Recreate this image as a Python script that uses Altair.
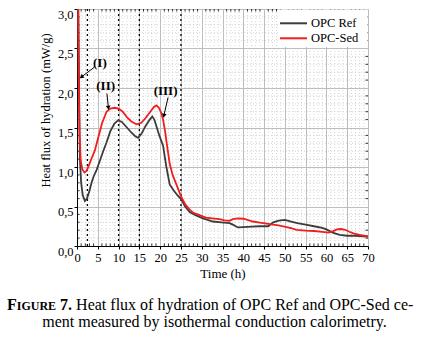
import altair as alt
import pandas as pd

# ---------------- data ----------------
ref_t = [0.0, 0.3, 0.5, 0.7, 1.0, 1.4, 1.9, 2.4, 3.0, 3.5, 4.0, 4.7, 5.5, 6.3, 7.1, 8.0, 9.0, 9.9,
         10.8, 12.0, 13.0, 14.0, 14.7, 15.5, 16.5, 17.5, 18.1, 18.6, 19.2, 19.8, 20.7, 21.5, 22.3,
         23.3, 24.2, 25.1, 26.0, 27.1, 28.5, 30.3, 32.7, 34.7, 36.7, 37.5, 38.7, 40.0, 42.0, 44.0,
         46.0, 47.2, 48.5, 50.0, 51.5, 53.0, 55.0, 57.0, 59.0, 60.0, 61.5, 63.2, 65.0, 67.0, 70.0]
ref_y = [3.6, 3.2, 2.0, 1.1, 0.8, 0.64, 0.57, 0.6, 0.7, 0.8, 0.88, 0.96, 1.08, 1.2, 1.31, 1.45, 1.55, 1.59,
         1.57, 1.50, 1.44, 1.39, 1.37, 1.42, 1.52, 1.60, 1.64, 1.60, 1.50, 1.40, 1.27, 1.0, 0.78,
         0.70, 0.64, 0.59, 0.50, 0.43, 0.39, 0.35, 0.31, 0.30, 0.29, 0.27, 0.235, 0.24, 0.245, 0.25,
         0.25, 0.30, 0.32, 0.33, 0.31, 0.29, 0.27, 0.25, 0.23, 0.21, 0.17, 0.14, 0.13, 0.13, 0.12]

sed_t = [0.0, 0.2, 0.4, 0.6, 0.9, 1.3, 1.8, 2.3, 3.0, 3.6, 4.3, 5.0, 6.0, 7.1, 8.0, 9.1, 10.0, 11.0,
         12.0, 13.0, 14.3, 15.5, 16.5, 17.5, 18.5, 19.1, 19.7, 20.3, 20.7, 21.2, 21.5, 22.0, 22.3,
         23.0, 23.9, 25.1, 26.0, 27.1, 28.0, 29.5, 31.0, 32.5, 34.3, 35.5, 36.7, 37.5, 38.7, 40.0,
         41.0, 42.3, 44.0, 46.0, 47.2, 48.5, 50.4, 51.5, 52.8, 55.0, 57.0, 59.0, 60.5, 61.5, 62.5,
         63.5, 64.5, 65.5, 66.5, 68.0, 70.0]
sed_y = [3.6, 3.3, 2.2, 1.4, 1.08, 0.97, 0.93, 0.95, 1.04, 1.12, 1.21, 1.35, 1.55, 1.70, 1.74, 1.75, 1.74, 1.70,
         1.63, 1.58, 1.54, 1.56, 1.62, 1.69, 1.76, 1.78, 1.75, 1.68, 1.60, 1.45, 1.33, 1.15, 1.04,
         0.90, 0.78, 0.62, 0.53, 0.46, 0.42, 0.39, 0.36, 0.35, 0.34, 0.325, 0.32, 0.34, 0.35, 0.345,
         0.33, 0.31, 0.295, 0.28, 0.27, 0.26, 0.24, 0.225, 0.205, 0.195, 0.19, 0.18, 0.17, 0.185, 0.21,
         0.215, 0.205, 0.18, 0.16, 0.14, 0.12]

series = ["OPC Ref", "OPC-Sed"]
colors = ["#3c3c3c", "#f01e1e"]

x_ticks = list(range(0, 75, 5))
y_ticks = [0.0, 0.5, 1.0, 1.5, 2.0, 2.5, 3.0]
x_minor = [i for i in range(1, 70) if i % 5]
y_minor = [round(0.1 * i, 1) for i in range(1, 30) if i % 5]
phase_lines = [2.5, 10, 15, 25]

ann_labels = ["(I)", "(II)", "(III)"]
ann_x = [5.5, 6.9, 21.3]
ann_y = [2.32, 2.03, 1.96]
arrow_x0 = [4.1, 7.2, 21.9]
arrow_y0 = [2.26, 1.93, 1.88]
arrow_x1 = [1.06, 7.55, 20.9]
arrow_y1 = [2.14, 1.75, 1.65]
arrow_angle = [234, 174, 193]

FONT = "Liberation Serif"
W, H = 291, 237

xs = alt.Scale(domain=[0, 70], nice=False, zero=False)
ys = alt.Scale(domain=[0, 3], nice=False, zero=False)

x_axis = alt.Axis(
    values=x_ticks, title="Time (h)", grid=True, gridColor="#bdbdbd", gridWidth=1,
    labelFont=FONT, labelFontSize=12.5, labelColor="black", labelPadding=2,
    titleFont=FONT, titleFontSize=13, titleFontWeight="normal", titleColor="black",
    titlePadding=4, tickSize=3, tickColor="black", domainColor="black", labelFlush=False)
y_axis = alt.Axis(
    values=y_ticks, title="Heat flux of hydration (mW/g)", grid=True, gridColor="#bdbdbd",
    gridWidth=1, labelExpr="replace(format(datum.value, '.1f'), '.', ',')",
    labelFont=FONT, labelFontSize=12.5, labelColor="black", labelPadding=1, labelOffset=5,
    labelFlush=False,
    titleFont=FONT, titleFontSize=12.5, titleFontWeight="normal", titleColor="black",
    titleX=-32, titleY=101, titleAlign="center", titleBaseline="middle",
    tickSize=3, tickColor="black", domainColor="black")

df = pd.concat([
    pd.DataFrame({"t": ref_t, "y": ref_y, "s": series[0]}),
    pd.DataFrame({"t": sed_t, "y": sed_y, "s": series[1]}),
])

minor_x = alt.Chart(pd.DataFrame({"t": x_minor})).mark_rule(
    stroke="#cccccc", strokeDash=[1, 2], strokeWidth=0.8
).encode(x=alt.X("t:Q", scale=xs, axis=x_axis))

minor_y = alt.Chart(pd.DataFrame({"y": y_minor})).mark_rule(
    stroke="#cccccc", strokeDash=[1, 2], strokeWidth=0.8
).encode(y=alt.Y("y:Q", scale=ys, axis=y_axis))

# minor ticks on all four sides (inward)
tick_b = alt.Chart(pd.DataFrame({"t": x_minor})).mark_rule(color="black", strokeWidth=0.8).encode(
    x=alt.X("t:Q", scale=xs, axis=x_axis), y=alt.value(H), y2=alt.value(H - 2.5))
tick_t = alt.Chart(pd.DataFrame({"t": x_minor})).mark_rule(color="black", strokeWidth=0.8).encode(
    x=alt.X("t:Q", scale=xs, axis=x_axis), y=alt.value(0), y2=alt.value(2.5))
tick_l = alt.Chart(pd.DataFrame({"y": y_minor})).mark_rule(color="black", strokeWidth=0.8).encode(
    y=alt.Y("y:Q", scale=ys, axis=y_axis), x=alt.value(0), x2=alt.value(2.5))
tick_r = alt.Chart(pd.DataFrame({"y": y_minor})).mark_rule(color="black", strokeWidth=0.8).encode(
    y=alt.Y("y:Q", scale=ys, axis=y_axis), x=alt.value(W), x2=alt.value(W - 2.5))

vlines = alt.Chart(pd.DataFrame({"t": phase_lines})).mark_rule(
    color="black", strokeDash=[2, 3], strokeWidth=1.3
).encode(x=alt.X("t:Q", scale=xs, axis=x_axis))

lines = alt.Chart(df).mark_line(strokeWidth=1.8, clip=True).encode(
    x=alt.X("t:Q", scale=xs, axis=x_axis),
    y=alt.Y("y:Q", scale=ys, axis=y_axis),
    color=alt.Color("s:N", scale=alt.Scale(domain=series, range=colors), legend=None),
    order=alt.Order("t:Q"),
)

# legend (drawn by hand, white box in the upper right of the plot)
leg_rows = [14.3, 29.3]
leg_box = alt.Chart(pd.DataFrame({"a": [0]})).mark_rect(fill="white").encode(
    x=alt.value(201), x2=alt.value(W - 0.5), y=alt.value(0.5), y2=alt.value(38))
legend_layers = [leg_box]
for name, col, ry in zip(series, colors, leg_rows):
    d = pd.DataFrame({"s": [name]})
    legend_layers.append(alt.Chart(d).mark_rule(strokeWidth=2, color=col).encode(
        x=alt.value(203), x2=alt.value(230), y=alt.value(ry)))
    legend_layers.append(alt.Chart(d).mark_text(
        font=FONT, fontSize=12.5, color="black", align="left", baseline="middle").encode(
        x=alt.value(234), y=alt.value(ry), text="s:N"))

ann_df = pd.DataFrame({"label": ann_labels, "t": ann_x, "y": ann_y, "x0": arrow_x0, "y0": arrow_y0,
                       "x1": arrow_x1, "y1": arrow_y1, "ang": arrow_angle})

arrows = alt.Chart(ann_df).mark_rule(color="black", strokeWidth=1).encode(
    x=alt.X("x0:Q", scale=xs, axis=x_axis), y=alt.Y("y0:Q", scale=ys, axis=y_axis),
    x2="x1:Q", y2="y1:Q")
heads = alt.Chart(ann_df).mark_point(shape="triangle-up", filled=True, color="black", size=22, opacity=1).encode(
    x=alt.X("x1:Q", scale=xs, axis=x_axis), y=alt.Y("y1:Q", scale=ys, axis=y_axis),
    angle=alt.Angle("ang:Q", scale=None))
ann_text = alt.Chart(ann_df).mark_text(font=FONT, fontSize=13, fontWeight="bold", color="black").encode(
    x=alt.X("t:Q", scale=xs, axis=x_axis), y=alt.Y("y:Q", scale=ys, axis=y_axis), text="label:N")

# caption
cap_size, cap_small = 16, 12
cap_x0 = -70
cap_y1, cap_y2 = 300.5, 317.5
x_F = cap_x0
x_IGURE = x_F + 0.611 * cap_size
x_7 = x_IGURE + 3.278 * cap_small + 0.25 * cap_size
x_rest = x_7 + 1.0 * cap_size


def cap(text, x, y, size, align, weight):
    return alt.Chart(pd.DataFrame({"c": [text]})).mark_text(
        font=FONT, fontSize=size, fontWeight=weight, color="black", align=align, baseline="alphabetic"
    ).encode(text="c:N", x=alt.value(x), y=alt.value(y))


caption = [
    cap("F", x_F, cap_y1, cap_size, "left", "bold"),
    cap("IGURE", x_IGURE, cap_y1, cap_small, "left", "bold"),
    cap("7.", x_7, cap_y1, cap_size, "left", "bold"),
    cap("Heat flux of hydration of OPC Ref and OPC-Sed ce-", x_rest, cap_y1, cap_size, "left", "normal"),
    cap("ment measured by isothermal conduction calorimetry.", 137.5, cap_y2, cap_size, "center", "normal"),
]

chart = alt.layer(
    minor_x, minor_y, vlines, tick_b, tick_t, tick_l, tick_r, lines, *legend_layers,
    arrows, heads, ann_text, *caption
).properties(
    width=W, height=H,
    padding={"left": 77, "top": 9, "right": 72, "bottom": 96},
    autosize=alt.AutoSizeParams(type="none"),
).configure_view(stroke="black", strokeWidth=1).configure(background="white")

chart.save("out.html", embed_options={"renderer": "svg", "actions": False})
